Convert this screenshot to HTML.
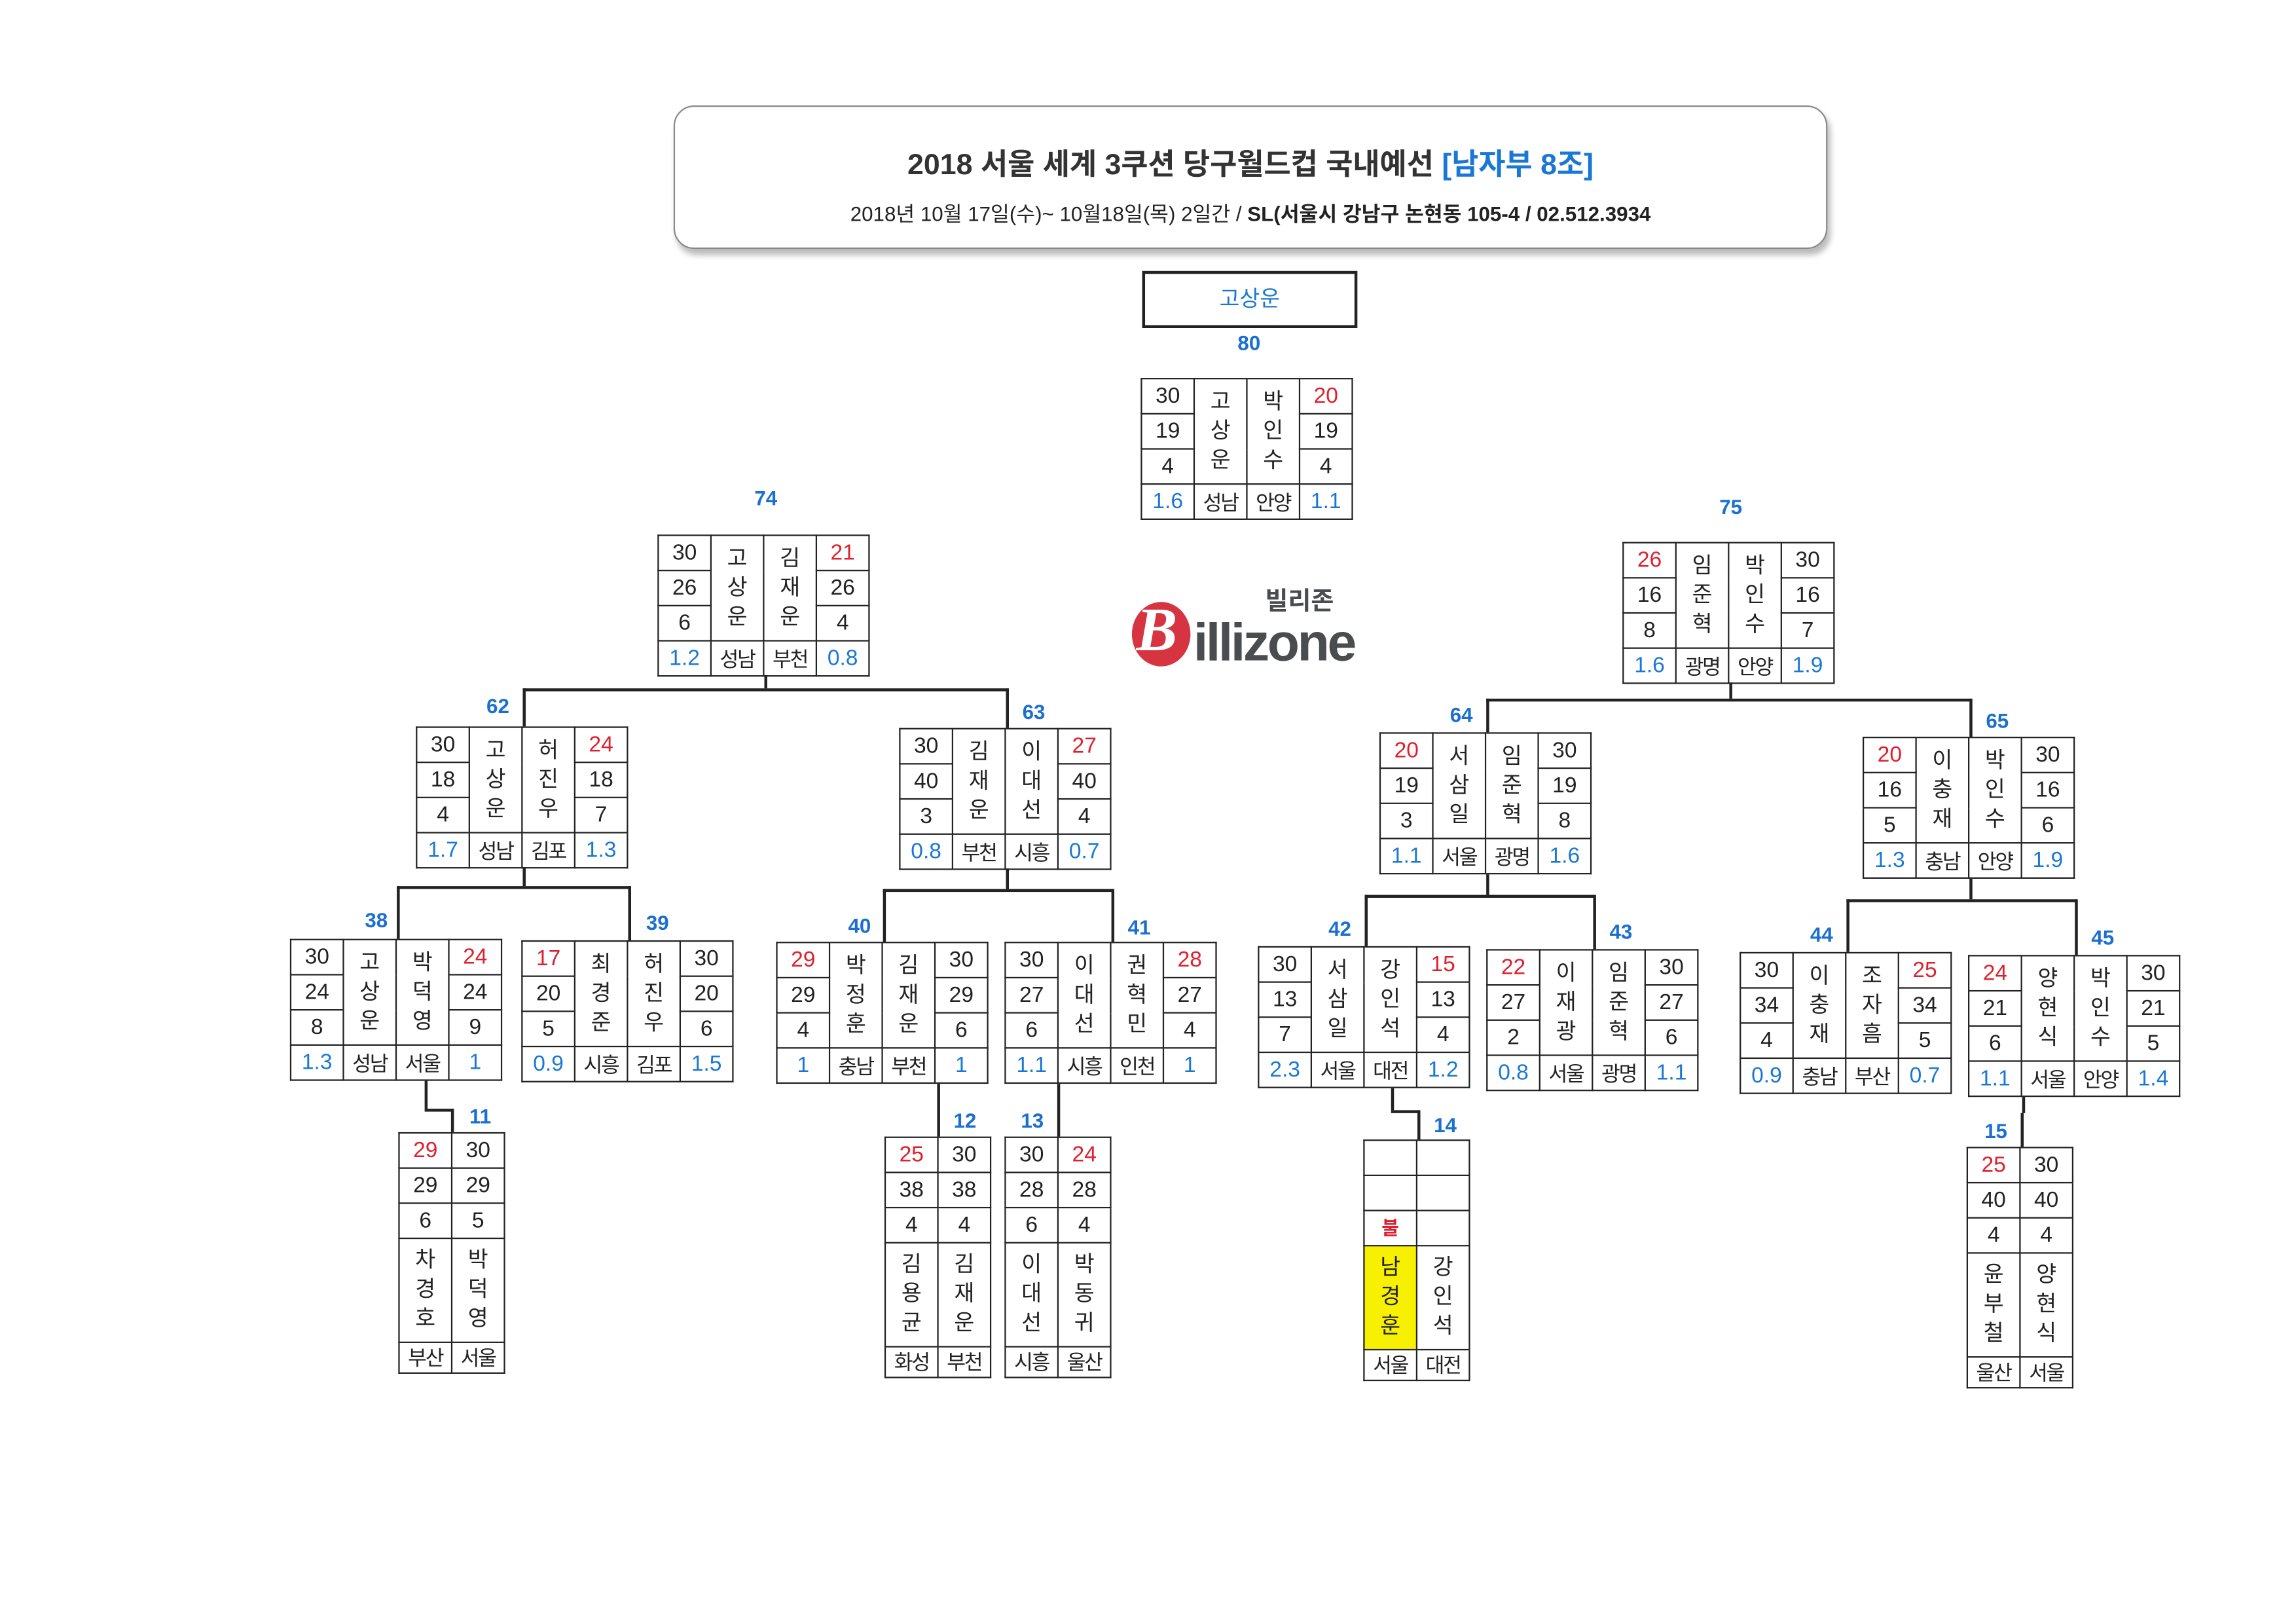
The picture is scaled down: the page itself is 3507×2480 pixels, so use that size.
<!DOCTYPE html>
<html><head><meta charset="utf-8"><style>
html,body{margin:0;padding:0;background:#fff;}
body{width:3507px;height:2480px;overflow:hidden;position:relative;}
#c{position:absolute;left:0;top:0;width:1568px;height:1109px;transform:scale(2.23661);transform-origin:0 0;font-family:"Liberation Sans","Noto Sans CJK KR",sans-serif;color:#222;}
.b{position:absolute;border-collapse:collapse;table-layout:fixed;}
.b td{border:1.5px solid #222;text-align:center;padding:0;font-size:15px;height:23px;width:35px;line-height:16px;}
.b td.n{line-height:20px;font-size:15px;}
.b td.g{font-size:14px;letter-spacing:-1px;}
.r{color:#e0202e;}
.h{color:#1a78d4;}
.v td.n{height:70px;}
.v td.g{height:20px;}
.l{position:absolute;color:#1a6fd0;font-weight:bold;font-size:14px;transform:translateX(-50%);}
.hl{position:absolute;background:#222;height:1.5px;}
.vl{position:absolute;background:#222;width:1.5px;}
</style></head><body><div id="c">

<div style="position:absolute;left:460px;top:72px;width:786px;height:96px;border:1px solid #888;border-radius:14px;box-shadow:2px 4px 4px #bbb;"></div>
<div style="position:absolute;left:460px;top:96px;width:788px;text-align:center;font-size:20px;font-weight:bold;color:#333;">2018 서울 세계 3쿠션 당구월드컵 국내예선 <span style="color:#1a78d4">[남자부 8조]</span></div>
<div style="position:absolute;left:460px;top:136px;width:788px;text-align:center;font-size:14px;color:#222;">2018년 10월 17일(수)~ 10월18일(목) 2일간 / <b>SL(서울시 강남구 논현동 105-4 / 02.512.3934</b></div>

<div style="position:absolute;left:780px;top:185px;width:143px;height:35px;border:2px solid #222;text-align:center;line-height:35px;color:#1a78d4;font-size:15px;">고상운</div>
<div class="l" style="left:853px;top:226px">80</div>

<!-- logo -->
<div style="position:absolute;left:773px;top:411px;width:40px;height:44px;border-radius:50%;background:#d63440;"></div>
<div style="position:absolute;left:776px;top:406px;font-size:42px;font-style:italic;font-weight:bold;color:#fff;font-family:'Liberation Serif',serif;line-height:50px;">B</div>
<div style="position:absolute;left:815px;top:420px;font-size:36px;font-weight:bold;color:#4a4d4f;line-height:38px;letter-spacing:-1.5px;">illizone</div>
<div style="position:absolute;left:864px;top:401px;font-size:17px;font-weight:bold;color:#4a4d4f;line-height:20px;">빌리존</div>

<!-- 80 -->
<table class="b" style="left:779px;top:258px"><tr><td>30</td><td rowspan="3" class="n">고<br>상<br>운</td><td rowspan="3" class="n">박<br>인<br>수</td><td class="r">20</td></tr><tr><td>19</td><td>19</td></tr><tr><td>4</td><td>4</td></tr><tr><td class="h">1.6</td><td class="g">성남</td><td class="g">안양</td><td class="h">1.1</td></tr></table>

<!-- 74 -->
<div class="l" style="left:523px;top:332px">74</div>
<table class="b" style="left:449px;top:365px"><tr><td>30</td><td rowspan="3" class="n">고<br>상<br>운</td><td rowspan="3" class="n">김<br>재<br>운</td><td class="r">21</td></tr><tr><td>26</td><td>26</td></tr><tr><td>6</td><td>4</td></tr><tr><td class="h">1.2</td><td class="g">성남</td><td class="g">부천</td><td class="h">0.8</td></tr></table>

<!-- 75 -->
<div class="l" style="left:1182px;top:338px">75</div>
<table class="b" style="left:1108px;top:370px"><tr><td class="r">26</td><td rowspan="3" class="n">임<br>준<br>혁</td><td rowspan="3" class="n">박<br>인<br>수</td><td>30</td></tr><tr><td>16</td><td>16</td></tr><tr><td>8</td><td>7</td></tr><tr><td class="h">1.6</td><td class="g">광명</td><td class="g">안양</td><td class="h">1.9</td></tr></table>

<!-- 62 -->
<div class="l" style="left:340px;top:474px">62</div>
<table class="b" style="left:284px;top:496px"><tr><td>30</td><td rowspan="3" class="n">고<br>상<br>운</td><td rowspan="3" class="n">허<br>진<br>우</td><td class="r">24</td></tr><tr><td>18</td><td>18</td></tr><tr><td>4</td><td>7</td></tr><tr><td class="h">1.7</td><td class="g">성남</td><td class="g">김포</td><td class="h">1.3</td></tr></table>

<!-- 63 -->
<div class="l" style="left:706px;top:478px">63</div>
<table class="b" style="left:614px;top:497px"><tr><td>30</td><td rowspan="3" class="n">김<br>재<br>운</td><td rowspan="3" class="n">이<br>대<br>선</td><td class="r">27</td></tr><tr><td>40</td><td>40</td></tr><tr><td>3</td><td>4</td></tr><tr><td class="h">0.8</td><td class="g">부천</td><td class="g">시흥</td><td class="h">0.7</td></tr></table>

<!-- 64 -->
<div class="l" style="left:998px;top:480px">64</div>
<table class="b" style="left:942px;top:500px"><tr><td class="r">20</td><td rowspan="3" class="n">서<br>삼<br>일</td><td rowspan="3" class="n">임<br>준<br>혁</td><td>30</td></tr><tr><td>19</td><td>19</td></tr><tr><td>3</td><td>8</td></tr><tr><td class="h">1.1</td><td class="g">서울</td><td class="g">광명</td><td class="h">1.6</td></tr></table>

<!-- 65 -->
<div class="l" style="left:1364px;top:484px">65</div>
<table class="b" style="left:1272px;top:503px"><tr><td class="r">20</td><td rowspan="3" class="n">이<br>충<br>재</td><td rowspan="3" class="n">박<br>인<br>수</td><td>30</td></tr><tr><td>16</td><td>16</td></tr><tr><td>5</td><td>6</td></tr><tr><td class="h">1.3</td><td class="g">충남</td><td class="g">안양</td><td class="h">1.9</td></tr></table>

<!-- 38 -->
<div class="l" style="left:257px;top:620px">38</div>
<table class="b" style="left:198px;top:641px"><tr><td>30</td><td rowspan="3" class="n">고<br>상<br>운</td><td rowspan="3" class="n">박<br>덕<br>영</td><td class="r">24</td></tr><tr><td>24</td><td>24</td></tr><tr><td>8</td><td>9</td></tr><tr><td class="h">1.3</td><td class="g">성남</td><td class="g">서울</td><td class="h">1</td></tr></table>

<!-- 39 -->
<div class="l" style="left:449px;top:622px">39</div>
<table class="b" style="left:356px;top:642px"><tr><td class="r">17</td><td rowspan="3" class="n">최<br>경<br>준</td><td rowspan="3" class="n">허<br>진<br>우</td><td>30</td></tr><tr><td>20</td><td>20</td></tr><tr><td>5</td><td>6</td></tr><tr><td class="h">0.9</td><td class="g">시흥</td><td class="g">김포</td><td class="h">1.5</td></tr></table>

<!-- 40 -->
<div class="l" style="left:587px;top:624px">40</div>
<table class="b" style="left:530px;top:643px"><tr><td class="r">29</td><td rowspan="3" class="n">박<br>정<br>훈</td><td rowspan="3" class="n">김<br>재<br>운</td><td>30</td></tr><tr><td>29</td><td>29</td></tr><tr><td>4</td><td>6</td></tr><tr><td class="h">1</td><td class="g">충남</td><td class="g">부천</td><td class="h">1</td></tr></table>

<!-- 41 -->
<div class="l" style="left:778px;top:625px">41</div>
<table class="b" style="left:686px;top:643px"><tr><td>30</td><td rowspan="3" class="n">이<br>대<br>선</td><td rowspan="3" class="n">권<br>혁<br>민</td><td class="r">28</td></tr><tr><td>27</td><td>27</td></tr><tr><td>6</td><td>4</td></tr><tr><td class="h">1.1</td><td class="g">시흥</td><td class="g">인천</td><td class="h">1</td></tr></table>

<!-- 42 -->
<div class="l" style="left:915px;top:626px">42</div>
<table class="b" style="left:859px;top:646px"><tr><td>30</td><td rowspan="3" class="n">서<br>삼<br>일</td><td rowspan="3" class="n">강<br>인<br>석</td><td class="r">15</td></tr><tr><td>13</td><td>13</td></tr><tr><td>7</td><td>4</td></tr><tr><td class="h">2.3</td><td class="g">서울</td><td class="g">대전</td><td class="h">1.2</td></tr></table>

<!-- 43 -->
<div class="l" style="left:1107px;top:628px">43</div>
<table class="b" style="left:1015px;top:648px"><tr><td class="r">22</td><td rowspan="3" class="n">이<br>재<br>광</td><td rowspan="3" class="n">임<br>준<br>혁</td><td>30</td></tr><tr><td>27</td><td>27</td></tr><tr><td>2</td><td>6</td></tr><tr><td class="h">0.8</td><td class="g">서울</td><td class="g">광명</td><td class="h">1.1</td></tr></table>

<!-- 44 -->
<div class="l" style="left:1244px;top:630px">44</div>
<table class="b" style="left:1188px;top:650px"><tr><td>30</td><td rowspan="3" class="n">이<br>충<br>재</td><td rowspan="3" class="n">조<br>자<br>흠</td><td class="r">25</td></tr><tr><td>34</td><td>34</td></tr><tr><td>4</td><td>5</td></tr><tr><td class="h">0.9</td><td class="g">충남</td><td class="g">부산</td><td class="h">0.7</td></tr></table>

<!-- 45 -->
<div class="l" style="left:1436px;top:632px">45</div>
<table class="b" style="left:1344px;top:652px"><tr><td class="r">24</td><td rowspan="3" class="n">양<br>현<br>식</td><td rowspan="3" class="n">박<br>인<br>수</td><td>30</td></tr><tr><td>21</td><td>21</td></tr><tr><td>6</td><td>5</td></tr><tr><td class="h">1.1</td><td class="g">서울</td><td class="g">안양</td><td class="h">1.4</td></tr></table>

<!-- vertical boxes -->
<div class="l" style="left:328px;top:754px">11</div>
<table class="b v" style="left:272px;top:773px"><tr><td class="r">29</td><td>30</td></tr><tr><td>29</td><td>29</td></tr><tr><td>6</td><td>5</td></tr><tr><td class="n">차<br>경<br>호</td><td class="n">박<br>덕<br>영</td></tr><tr><td class="g">부산</td><td class="g">서울</td></tr></table>

<div class="l" style="left:659px;top:757px">12</div>
<table class="b v" style="left:604px;top:776px"><tr><td class="r">25</td><td>30</td></tr><tr><td>38</td><td>38</td></tr><tr><td>4</td><td>4</td></tr><tr><td class="n">김<br>용<br>균</td><td class="n">김<br>재<br>운</td></tr><tr><td class="g">화성</td><td class="g">부천</td></tr></table>

<div class="l" style="left:705px;top:757px">13</div>
<table class="b v" style="left:686px;top:776px"><tr><td>30</td><td class="r">24</td></tr><tr><td>28</td><td>28</td></tr><tr><td>6</td><td>4</td></tr><tr><td class="n">이<br>대<br>선</td><td class="n">박<br>동<br>귀</td></tr><tr><td class="g">시흥</td><td class="g">울산</td></tr></table>

<div class="l" style="left:987px;top:760px">14</div>
<table class="b v" style="left:931px;top:778px"><tr><td></td><td></td></tr><tr><td></td><td></td></tr><tr><td class="r" style="font-weight:bold;font-size:13px">불</td><td></td></tr><tr><td class="n" style="background:#f7f000">남<br>경<br>훈</td><td class="n">강<br>인<br>석</td></tr><tr><td class="g">서울</td><td class="g">대전</td></tr></table>

<div class="l" style="left:1363px;top:764px">15</div>
<table class="b v" style="left:1343px;top:783px"><tr><td class="r">25</td><td>30</td></tr><tr><td>40</td><td>40</td></tr><tr><td>4</td><td>4</td></tr><tr><td class="n">윤<br>부<br>철</td><td class="n">양<br>현<br>식</td></tr><tr><td class="g">울산</td><td class="g">서울</td></tr></table>

<!-- connectors -->
<div class="vl" style="left:522px;top:461px;height:9px"></div>
<div class="hl" style="left:357px;top:470px;width:331px"></div>
<div class="vl" style="left:357px;top:470px;height:26px"></div>
<div class="vl" style="left:687px;top:470px;height:27px"></div>

<div class="vl" style="left:1181px;top:466px;height:11px"></div>
<div class="hl" style="left:1015px;top:477px;width:331px"></div>
<div class="vl" style="left:1015px;top:477px;height:23px"></div>
<div class="vl" style="left:1345px;top:477px;height:26px"></div>

<div class="vl" style="left:357px;top:592px;height:13px"></div>
<div class="hl" style="left:271px;top:605px;width:160px"></div>
<div class="vl" style="left:271px;top:605px;height:36px"></div>
<div class="vl" style="left:429px;top:605px;height:37px"></div>

<div class="vl" style="left:687px;top:593px;height:14px"></div>
<div class="hl" style="left:603px;top:607px;width:157px"></div>
<div class="vl" style="left:603px;top:607px;height:36px"></div>
<div class="vl" style="left:759px;top:607px;height:36px"></div>

<div class="vl" style="left:1015px;top:597px;height:14px"></div>
<div class="hl" style="left:932px;top:611px;width:157px"></div>
<div class="vl" style="left:932px;top:611px;height:35px"></div>
<div class="vl" style="left:1088px;top:611px;height:37px"></div>

<div class="vl" style="left:1345px;top:600px;height:14px"></div>
<div class="hl" style="left:1261px;top:614px;width:157px"></div>
<div class="vl" style="left:1261px;top:614px;height:36px"></div>
<div class="vl" style="left:1417px;top:614px;height:38px"></div>

<div class="vl" style="left:290px;top:738px;height:19px"></div>
<div class="hl" style="left:290px;top:757px;width:19px"></div>
<div class="vl" style="left:308px;top:757px;height:16px"></div>

<div class="vl" style="left:640px;top:740px;height:36px"></div>
<div class="vl" style="left:722px;top:740px;height:36px"></div>

<div class="vl" style="left:950px;top:743px;height:15px"></div>
<div class="hl" style="left:950px;top:758px;width:19px"></div>
<div class="vl" style="left:968px;top:758px;height:20px"></div>

<div class="vl" style="left:1381px;top:749px;height:11px"></div>
<div class="hl" style="left:1380px;top:760px;width:2px"></div>
<div class="vl" style="left:1380px;top:760px;height:23px"></div>

</div></body></html>
